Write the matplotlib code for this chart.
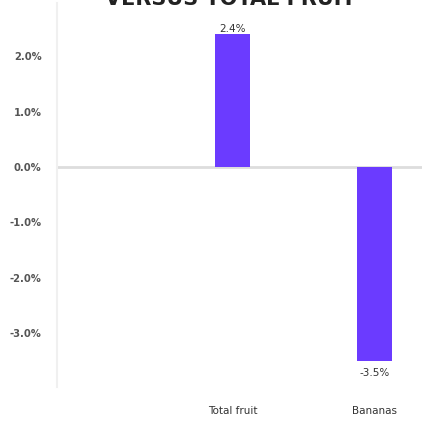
import matplotlib
matplotlib.use("Agg")
import matplotlib.pyplot as plt

categories = ["Total fruit", "Bananas"]
values = [2.4, -3.5]
yticks = [-3.0, -2.0, -1.0, 0.0, 1.0, 2.0]
title = "VERSUS TOTAL FRUIT"

plt.rcParams['font.family'] = ['DejaVu Sans']

W, H = 422, 421
fig = plt.figure(figsize=(W / 100, H / 100), dpi=100)
ax = fig.add_axes([57 / W, (H - 387) / H, 1 - 57 / W, (387 - 3) / H])

x = list(range(len(categories)))
ax.bar(x, values, width=0.246, color="#6B3BFF", zorder=2)
ax.axhline(0, color="#dddddd", lw=2, zorder=1)

ax.set_xlim(-1.236, 1.335)
ax.set_ylim(-3.978, 2.966)

ax.set_yticks(yticks)
ax.set_yticklabels([f"{v:.1f}%" for v in yticks], fontsize=7.2, fontweight='bold', color="#555555")
ax.set_xticks(x)
ax.set_xticklabels(categories, fontsize=7.5, color="#333333")
ax.tick_params(axis='y', length=0, pad=11)
ax.tick_params(axis='x', length=0, pad=13.5)

for s in ['top', 'right', 'bottom']:
    ax.spines[s].set_visible(False)
ax.spines['left'].set_color("#f0f0f0")
ax.spines['left'].set_linewidth(1.5)

for xi, v in zip(x, values):
    if v >= 0:
        ax.annotate(f"{v:.1f}%", (xi, v), xytext=(0, 0.5), textcoords='offset points',
                    ha='center', va='bottom', fontsize=7.5, color="#333333")
    else:
        ax.annotate(f"{v:.1f}%", (xi, v), xytext=(0, -5), textcoords='offset points',
                    ha='center', va='top', fontsize=7.5, color="#333333")

fig.text(230 / W, (H - 5) / H, title, ha='center', va='baseline',
         fontsize=15, fontweight='heavy', color="#222222")

fig.savefig("out.png", dpi=100)
